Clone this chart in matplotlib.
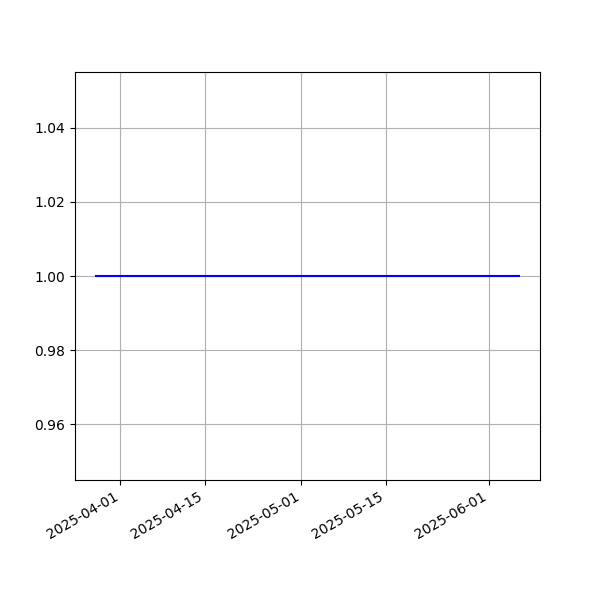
import matplotlib
matplotlib.use("Agg")
import matplotlib.pyplot as plt
import pandas as pd

# data: daily values, flat at 1.0
start_date = "2025-03-28"
end_date = "2025-06-06"
dates = pd.date_range(start_date, end_date, freq="D")
values = [1.0] * len(dates)

fig, ax = plt.subplots(figsize=(6, 6), dpi=100)
ax.plot(dates, values, color="blue")
ax.grid(True)
fig.autofmt_xdate()

fig.savefig("out.png")
